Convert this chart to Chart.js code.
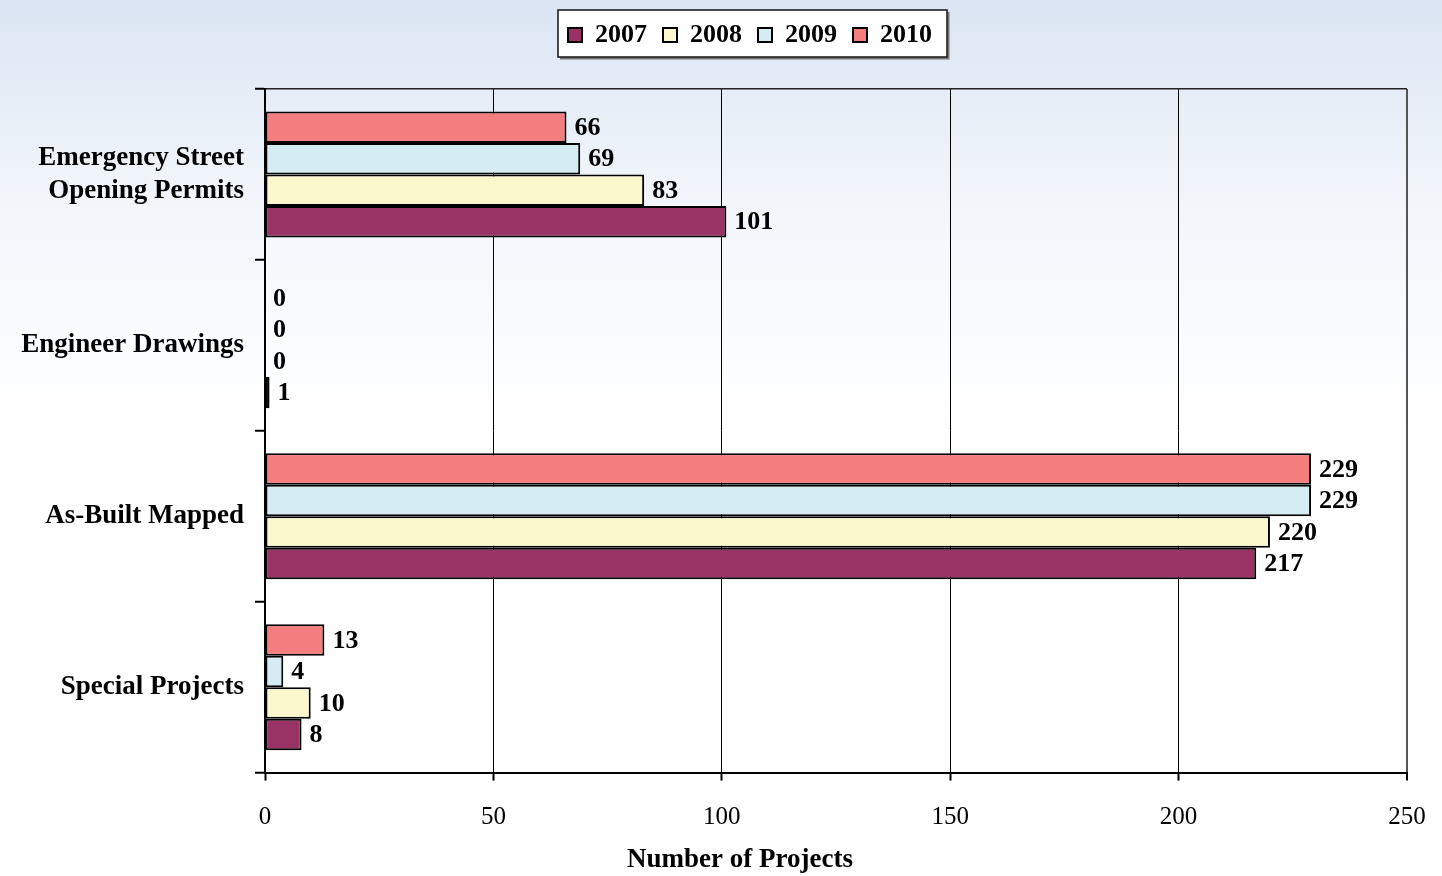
<!DOCTYPE html>
<html lang="en">
<head>
  <meta charset="UTF-8" />
  <title>Number of Projects</title>
  <style>
    body {
      margin: 0;
      background: linear-gradient(to bottom, #dbe5f3 0px, #f2f6fb 200px, #ffffff 420px);
      width: 1442px;
      height: 876px;
      overflow: hidden;
    }
    canvas { display: block; }
  </style>
</head>
<body>
  <canvas id="projChart" width="1442" height="876"></canvas>

  <script src="https://cdn.jsdelivr.net/npm/chart.js"></script>
  <script>
    const FONT = '"Liberation Serif", "Times New Roman", serif';

    const categories = [
      ['Emergency Street', 'Opening Permits'],
      'Engineer Drawings',
      'As-Built Mapped',
      'Special Projects'
    ];
    const years = ['2010', '2009', '2008', '2007'];
    const values2010 = [66, 0, 229, 13];
    const values2009 = [69, 0, 229, 4];
    const values2008 = [83, 0, 220, 10];
    const values2007 = [101, 1, 217, 8];
    const xTicks = [0, 50, 100, 150, 200, 250];

    const fills = ['#f47d7d', '#d4ecf2', '#fbf8ce', '#993366'];
    const seriesValues = [values2010, values2009, values2008, values2007];

    // move legend / bottom title to where the original had them
    const placeBoxes = {
      id: 'placeBoxes',
      afterLayout(chart) {
        const lg = chart.legend;
        const dx = 750 - (lg.left + lg.right) / 2;
        const dy = 35 - (lg.top + lg.options.labels.padding + 13);
        lg.left += dx; lg.right += dx;
        lg.top += dy; lg.bottom += dy;
        const tb = chart.titleBlock;
        const tx = 740 - (tb.left + tb.right) / 2;
        tb.left += tx; tb.right += tx;
      }
    };

    const legendFrame = {
      id: 'legendFrame',
      beforeDraw(chart) {
        const hb = chart.legend.legendHitBoxes;
        if (!hb || !hb.length) return;
        const l = Math.min(...hb.map(h => h.left)) - 10;
        const r = Math.max(...hb.map(h => h.left + h.width)) + 15;
        const t = hb[0].top - 12;
        const b = hb[0].top + hb[0].height + 9;
        const ctx = chart.ctx;
        ctx.save();
        ctx.fillStyle = '#ffffff';
        ctx.fillRect(l, t, r - l, b - t);
        ctx.strokeStyle = '#777';
        ctx.lineWidth = 2;
        ctx.beginPath();
        ctx.moveTo(r + 1.5, t + 2);
        ctx.lineTo(r + 1.5, b + 1.5);
        ctx.lineTo(l + 2, b + 1.5);
        ctx.stroke();
        ctx.strokeStyle = '#111';
        ctx.lineWidth = 1.5;
        ctx.strokeRect(l, t, r - l, b - t);
        ctx.restore();
      }
    };

    const valueLabels = {
      id: 'valueLabels',
      afterDatasetsDraw(chart) {
        const ctx = chart.ctx;
        ctx.save();
        ctx.font = 'bold 26px ' + FONT;
        ctx.fillStyle = '#000';
        ctx.textAlign = 'left';
        ctx.textBaseline = 'middle';
        chart.data.datasets.forEach((ds, i) => {
          chart.getDatasetMeta(i).data.forEach((bar, j) => {
            ctx.fillText(ds.data[j], bar.x + 8, bar.y + 1);
          });
        });
        ctx.restore();
      }
    };

    new Chart(document.getElementById('projChart'), {
      type: 'bar',
      data: {
        labels: categories,
        datasets: years.map((y, i) => ({
          label: y,
          data: seriesValues[i],
          backgroundColor: fills[i],
          borderColor: '#000',
          borderWidth: 2,
          borderSkipped: false,
          categoryPercentage: 0.737,
          barPercentage: 1
        }))
      },
      options: {
        indexAxis: 'y',
        responsive: false,
        animation: false,
        layout: { padding: { top: 37, right: 35, bottom: 0, left: 0 } },
        scales: {
          x: {
            min: 0,
            max: 250,
            afterBuildTicks(scale) {
              scale.ticks = xTicks.map(v => ({ value: v }));
            },
            afterFit(scale) {
              scale.height = 71;
              scale.paddingLeft = 0;
              scale.paddingRight = 0;
            },
            border: { color: '#000', width: 2 },
            grid: {
              color: c => c.index === xTicks.length - 1 ? '#555' : '#000',
              lineWidth: c => c.index === xTicks.length - 1 ? 2 : 1,
              tickColor: '#000',
              tickWidth: 2,
              tickLength: 8
            },
            ticks: {
              color: '#000',
              padding: 22,
              font: { family: FONT, size: 25 }
            }
          },
          y: {
            afterFit(scale) {
              scale.width = 265;
            },
            border: { color: '#000', width: 2 },
            grid: {
              offset: true,
              color: c => c.index === 0 ? '#222' : 'transparent',
              lineWidth: 1.5,
              tickColor: '#000',
              tickWidth: 2,
              tickLength: 10
            },
            ticks: {
              color: '#000',
              padding: 11,
              font: { family: FONT, size: 27, weight: 'bold', lineHeight: 1.22 }
            }
          }
        },
        plugins: {
          legend: {
            reverse: true,
            labels: {
              color: '#000',
              boxWidth: 14,
              boxHeight: 14,
              padding: 16,
              font: { family: FONT, size: 26, weight: 'bold' }
            }
          },
          title: {
            display: true,
            position: 'bottom',
            text: 'Number of Projects',
            color: '#000',
            padding: { top: 0, bottom: 0 },
            font: { family: FONT, size: 27, weight: 'bold', lineHeight: 1.2 }
          },
          tooltip: { enabled: false }
        }
      },
      plugins: [placeBoxes, legendFrame, valueLabels]
    });
  </script>
</body>
</html>
